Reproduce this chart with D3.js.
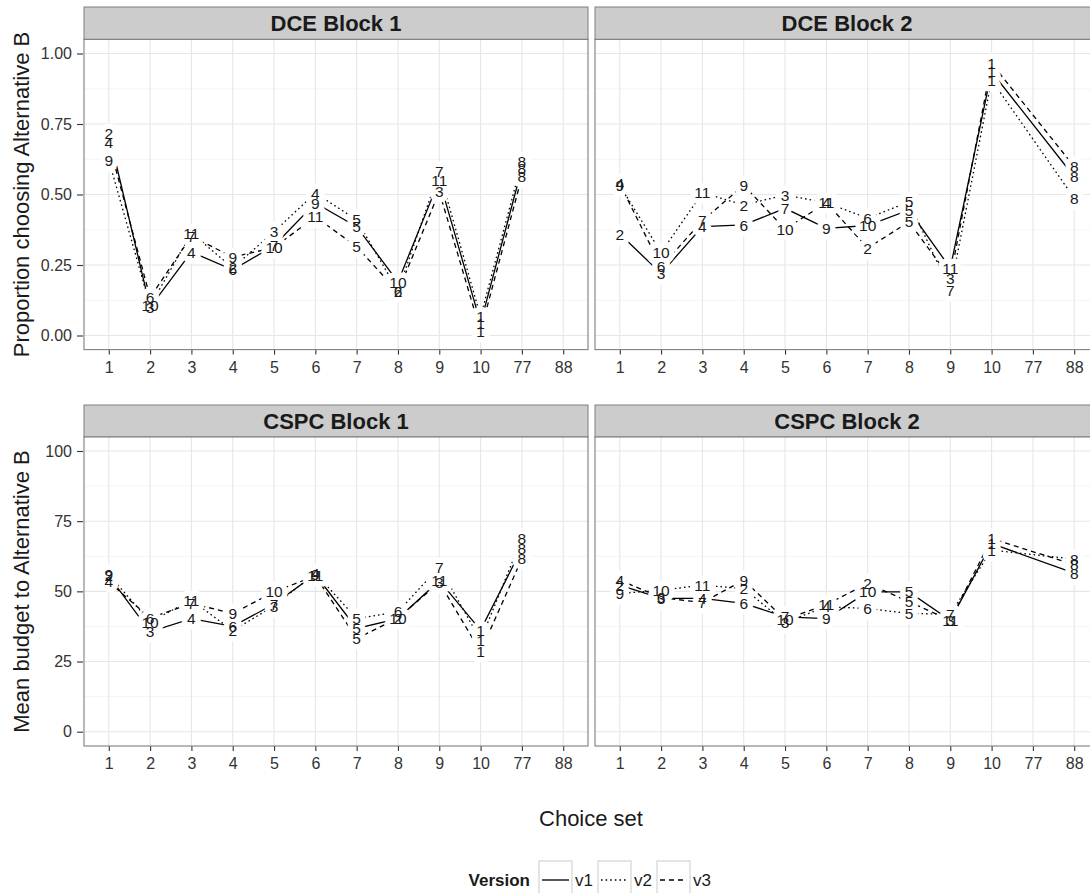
<!DOCTYPE html>
<html>
<head>
<meta charset="utf-8">
<script src="https://cdn.jsdelivr.net/npm/d3@7"></script>
<style>
  body { margin: 0; background: #ffffff; }
  text { font-family: "Liberation Sans", Arial, Helvetica, sans-serif; }
</style>
</head>
<body>
<svg id="chart" width="1090" height="893"></svg>
<script>
// ---- data ----------------------------------------------------------------
const choiceSets = ["1", "2", "3", "4", "5", "6", "7", "8", "9", "10", "77", "88"];
const block1Sets = ["1", "2", "3", "4", "5", "6", "7", "8", "9", "10", "77"];
const block2Sets = ["1", "2", "3", "4", "5", "6", "7", "8", "9", "10", "88"];
const versions = ["v1", "v2", "v3"];

// position at which each choice set was shown, per version
const orderBlock1V1 = [2, 3, 4, 6, 7, 9, 5, 10, 11, 1, 8];
const orderBlock1V2 = [9, 10, 11, 2, 3, 4, 5, 6, 7, 1, 8];
const orderBlock1V3 = [4, 6, 7, 9, 10, 11, 5, 2, 3, 1, 8];
const orderBlock2V1 = [2, 3, 4, 6, 7, 9, 10, 5, 11, 1, 8];
const orderBlock2V2 = [9, 10, 11, 2, 3, 4, 6, 5, 7, 1, 8];
const orderBlock2V3 = [4, 6, 7, 9, 10, 11, 2, 5, 3, 1, 8];

// proportion choosing alternative B (DCE)
const dceBlock1V1 = [0.718, 0.100, 0.296, 0.233, 0.318, 0.470, 0.386, 0.190, 0.551, 0.044, 0.593];
const dceBlock1V2 = [0.622, 0.105, 0.363, 0.240, 0.368, 0.505, 0.410, 0.158, 0.581, 0.067, 0.616];
const dceBlock1V3 = [0.683, 0.135, 0.352, 0.278, 0.312, 0.421, 0.315, 0.155, 0.510, 0.015, 0.563];
const dceBlock2V1 = [0.360, 0.220, 0.386, 0.392, 0.451, 0.380, 0.390, 0.445, 0.239, 0.935, 0.563];
const dceBlock2V2 = [0.533, 0.294, 0.506, 0.463, 0.498, 0.471, 0.416, 0.474, 0.161, 0.906, 0.487];
const dceBlock2V3 = [0.538, 0.244, 0.407, 0.533, 0.377, 0.471, 0.310, 0.403, 0.204, 0.965, 0.599];

// mean budget allocated to alternative B (CSPC)
const cspcBlock1V1 = [55.5, 35.6, 40.3, 37.5, 45.5, 56.0, 36.8, 40.3, 53.8, 36.2, 65.3];
const cspcBlock1V2 = [56.0, 39.1, 46.9, 36.0, 44.8, 56.5, 40.3, 42.7, 58.7, 32.6, 68.8];
const cspcBlock1V3 = [53.4, 40.5, 45.7, 42.1, 49.8, 55.5, 33.2, 40.5, 53.2, 28.5, 61.7];
const cspcBlock2V1 = [52.2, 47.5, 47.5, 45.7, 40.9, 40.3, 49.8, 49.8, 39.7, 67.0, 56.5];
const cspcBlock2V2 = [49.2, 50.4, 52.2, 51.0, 39.0, 44.5, 43.9, 42.1, 41.9, 64.7, 61.5];
const cspcBlock2V3 = [54.0, 47.8, 46.0, 54.0, 40.0, 45.3, 52.8, 46.3, 39.7, 68.8, 59.5];

const dceTicks = [0, 0.25, 0.5, 0.75, 1];
const cspcTicks = [0, 25, 50, 75, 100];

// ---- layout --------------------------------------------------------------
const svg = d3.select("#chart");
const panelWidth = 504;
const colLeft = [84, 595];
const rows = [
  { stripTop: 7, top: 39.4, bottom: 349.6,
    y: d3.scaleLinear().domain([0, 1]).range([335.5, 53.5]),
    ticks: dceTicks, fmt: d3.format(".2f"),
    title: "Proportion choosing Alternative B" },
  { stripTop: 405, top: 437, bottom: 746,
    y: d3.scaleLinear().domain([0, 100]).range([731.7, 451]),
    ticks: cspcTicks, fmt: d3.format("d"),
    title: "Mean budget to Alternative B" }
];

const panels = [
  { title: "DCE Block 1", row: 0, col: 0, sets: block1Sets,
    orders: [orderBlock1V1, orderBlock1V2, orderBlock1V3],
    values: [dceBlock1V1, dceBlock1V2, dceBlock1V3] },
  { title: "DCE Block 2", row: 0, col: 1, sets: block2Sets,
    orders: [orderBlock2V1, orderBlock2V2, orderBlock2V3],
    values: [dceBlock2V1, dceBlock2V2, dceBlock2V3] },
  { title: "CSPC Block 1", row: 1, col: 0, sets: block1Sets,
    orders: [orderBlock1V1, orderBlock1V2, orderBlock1V3],
    values: [cspcBlock1V1, cspcBlock1V2, cspcBlock1V3] },
  { title: "CSPC Block 2", row: 1, col: 1, sets: block2Sets,
    orders: [orderBlock2V1, orderBlock2V2, orderBlock2V3],
    values: [cspcBlock2V1, cspcBlock2V2, cspcBlock2V3] }
];

const dashes = { v1: null, v2: "1.6,3", v3: "5,4" };
const labelColor = "#1a1a1a";

panels.forEach(p => {
  const r = rows[p.row];
  const x0 = colLeft[p.col];
  const x = d3.scalePoint().domain(choiceSets).range([x0, x0 + panelWidth]).padding(0.6);
  const y = r.y;
  const g = svg.append("g");

  // strip
  g.append("rect")
    .attr("x", x0).attr("y", r.stripTop)
    .attr("width", panelWidth).attr("height", r.top - r.stripTop)
    .attr("fill", "#cccccc").attr("stroke", "#7f7f7f").attr("stroke-width", 1);
  g.append("text")
    .attr("x", x0 + panelWidth / 2).attr("y", (r.stripTop + r.top) / 2)
    .attr("dy", "0.36em").attr("text-anchor", "middle")
    .attr("font-size", 22).attr("font-weight", "bold").attr("fill", "#1a1a1a")
    .text(p.title);

  // panel background and grid
  g.append("rect")
    .attr("x", x0).attr("y", r.top)
    .attr("width", panelWidth).attr("height", r.bottom - r.top)
    .attr("fill", "#ffffff");

  const minor = d3.pairs(r.ticks).map(([a, b]) => (a + b) / 2);
  g.selectAll(null).data(minor).enter().append("line")
    .attr("x1", x0).attr("x2", x0 + panelWidth)
    .attr("y1", d => y(d)).attr("y2", d => y(d))
    .attr("stroke", "#f4f4f4").attr("stroke-width", 1);
  g.selectAll(null).data(r.ticks).enter().append("line")
    .attr("x1", x0).attr("x2", x0 + panelWidth)
    .attr("y1", d => y(d)).attr("y2", d => y(d))
    .attr("stroke", "#e6e6e6").attr("stroke-width", 1.1);
  g.selectAll(null).data(choiceSets).enter().append("line")
    .attr("x1", d => x(d)).attr("x2", d => x(d))
    .attr("y1", r.top).attr("y2", r.bottom)
    .attr("stroke", "#e6e6e6").attr("stroke-width", 1.1);

  // bottom axis
  const xAxis = d3.axisBottom(x).tickSizeInner(5).tickSizeOuter(0).tickPadding(7);
  const xa = g.append("g").attr("transform", `translate(0,${r.bottom})`).call(xAxis);
  xa.select(".domain").remove();
  xa.selectAll(".tick line").attr("stroke", "#333333").attr("stroke-width", 1.1);
  xa.selectAll(".tick text").attr("font-size", 16).attr("fill", "#333333")
    .attr("font-family", "Liberation Sans, Arial, sans-serif");

  // left axis only on the first column
  if (p.col === 0) {
    const yAxis = d3.axisLeft(y).tickValues(r.ticks).tickFormat(r.fmt)
      .tickSizeInner(6).tickSizeOuter(0).tickPadding(5);
    const ya = g.append("g").attr("transform", `translate(${x0 - 1},0)`).call(yAxis);
    ya.select(".domain").remove();
    ya.selectAll(".tick line").attr("stroke", "#333333").attr("stroke-width", 1.1);
    ya.selectAll(".tick text").attr("font-size", 16).attr("fill", "#333333")
      .attr("font-family", "Liberation Sans, Arial, sans-serif");
  }

  // series
  const series = versions.map((v, i) => ({
    version: v,
    points: p.sets.map((s, j) => ({ set: s, value: p.values[i][j], order: p.orders[i][j] }))
  }));

  const line = d3.line().x(d => x(d.set)).y(d => y(d.value));
  const plot = g.append("g");
  plot.selectAll(null).data(series).enter().append("path")
    .attr("d", d => line(d.points))
    .attr("fill", "none").attr("stroke", "#000000").attr("stroke-width", 1.3)
    .attr("stroke-dasharray", d => dashes[d.version]);

  const allPoints = series.flatMap(s => s.points);
  // white halo first so that overlapping labels all stay visible
  plot.selectAll(null).data(allPoints).enter().append("text")
    .attr("x", d => x(d.set)).attr("y", d => y(d.value)).attr("dy", "0.36em")
    .attr("text-anchor", "middle").attr("font-size", 15.5)
    .attr("fill", "#ffffff").attr("stroke", "#ffffff").attr("stroke-width", 11)
    .attr("stroke-linejoin", "round")
    .text(d => d.order);
  plot.selectAll(null).data(allPoints).enter().append("text")
    .attr("x", d => x(d.set)).attr("y", d => y(d.value)).attr("dy", "0.36em")
    .attr("text-anchor", "middle").attr("font-size", 15.5)
    .attr("fill", labelColor)
    .text(d => d.order);

  // panel border
  g.append("rect")
    .attr("x", x0).attr("y", r.top)
    .attr("width", panelWidth).attr("height", r.bottom - r.top)
    .attr("fill", "none").attr("stroke", "#7f7f7f").attr("stroke-width", 1.1);
});

// axis titles
rows.forEach(r => {
  svg.append("text")
    .attr("transform", `translate(29,${(r.top + r.bottom) / 2}) rotate(-90)`)
    .attr("text-anchor", "middle").attr("font-size", 22).attr("fill", "#1a1a1a")
    .text(r.title);
});
svg.append("text")
  .attr("x", 591).attr("y", 826).attr("text-anchor", "middle")
  .attr("font-size", 22).attr("fill", "#1a1a1a")
  .text("Choice set");

// legend
const legend = svg.append("g");
legend.append("text")
  .attr("x", 530).attr("y", 886).attr("text-anchor", "end")
  .attr("font-size", 17).attr("font-weight", "bold").attr("fill", "#1a1a1a")
  .text("Version");
const keyX = d3.scalePoint().domain(versions).range([539, 657]);
versions.forEach(v => {
  const kx = keyX(v);
  legend.append("rect")
    .attr("x", kx).attr("y", 861).attr("width", 33).attr("height", 34)
    .attr("fill", "#ffffff").attr("stroke", "#d0d0d0").attr("stroke-width", 1.1);
  legend.append("line")
    .attr("x1", kx + 3).attr("x2", kx + 30).attr("y1", 880).attr("y2", 880)
    .attr("stroke", "#000000").attr("stroke-width", 1.3)
    .attr("stroke-dasharray", dashes[v]);
  legend.append("text")
    .attr("x", kx + 36).attr("y", 886)
    .attr("font-size", 17).attr("fill", "#1a1a1a")
    .text(v);
});
</script>
</body>
</html>
